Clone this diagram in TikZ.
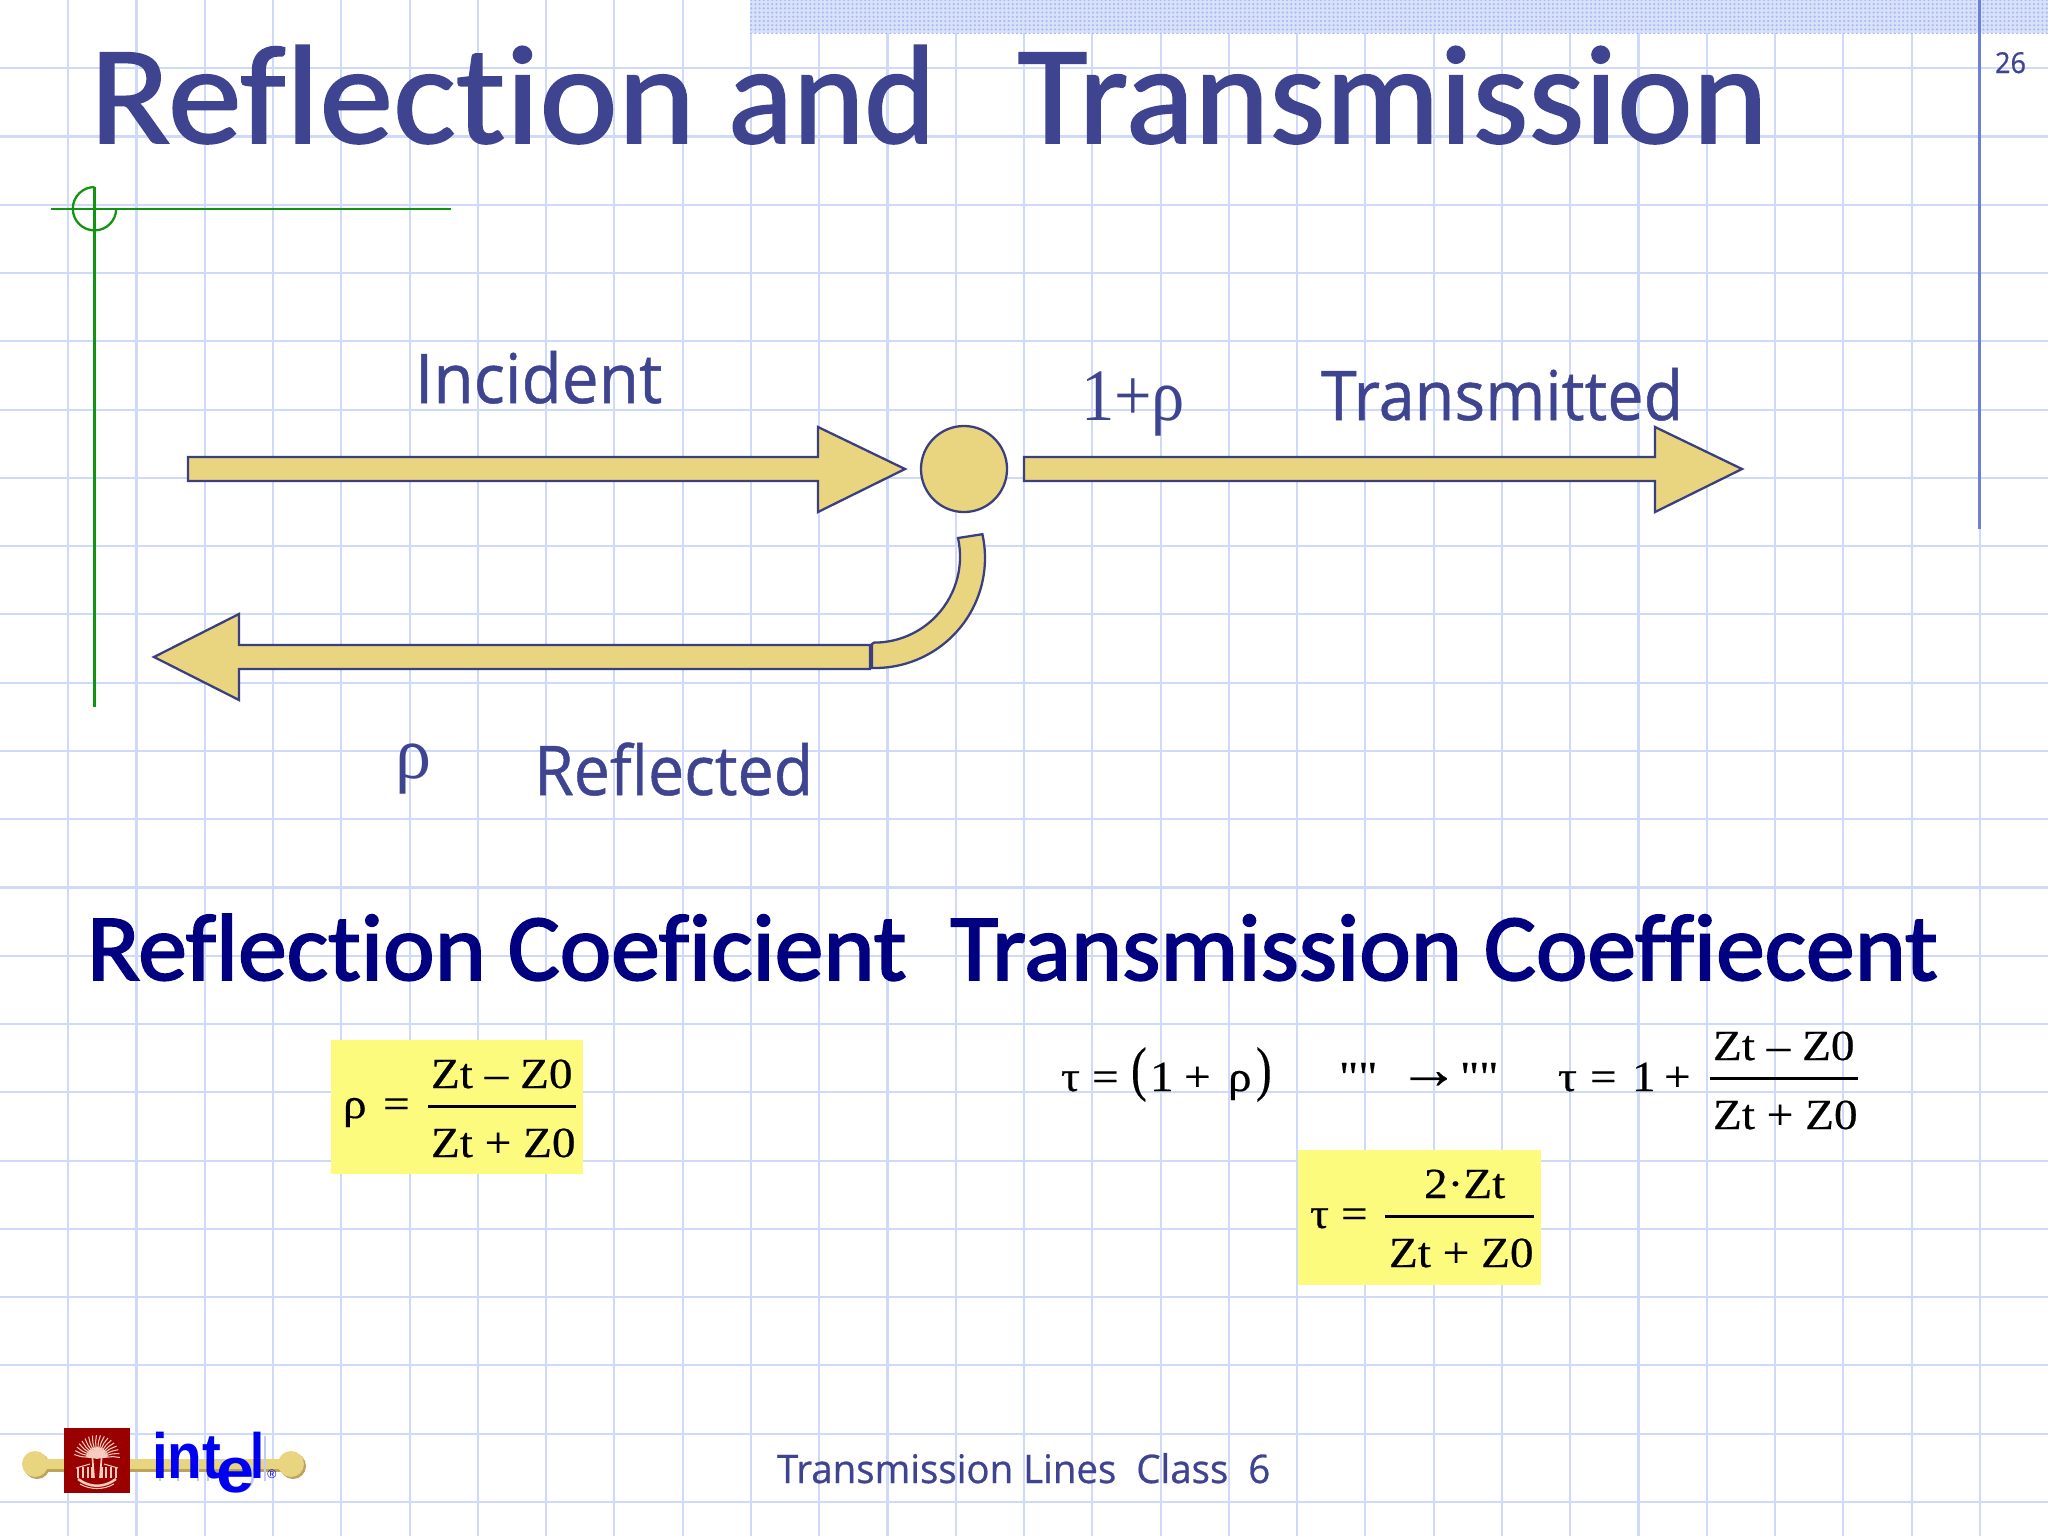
\documentclass[tikz,border=0pt]{standalone}
\usepackage{graphicx}
\usepackage{fontspec}
\usepackage{xcolor}
\usepackage{tikz}
\usetikzlibrary{patterns.meta}
\setmainfont{Liberation Serif}
\newfontfamily\titlefont[RawFeature=-liga,FakeBold=1.2]{Carlito}
\newfontfamily\headfont[RawFeature=-liga,FakeBold=2]{Carlito}
\newfontfamily\bodyfont[FakeBold=0.7]{Open Sans}
\newfontfamily\formulafont[FakeStretch=1.1,FakeBold=0.4]{Liberation Serif}
\newfontfamily\logofont{Liberation Sans}
\definecolor{gridcolor}{HTML}{CFD9F9}
\definecolor{barcolor}{HTML}{A9BCF0}
\definecolor{rulecolor}{HTML}{6C80DA}
\definecolor{slidecolor}{HTML}{3F4490}
\definecolor{headcolor}{HTML}{000080}
\definecolor{goldcolor}{HTML}{E9D57F}
\definecolor{goldshade}{HTML}{B9A45A}
\definecolor{edgecolor}{HTML}{3B3F80}
\definecolor{markcolor}{HTML}{129412}
\definecolor{boxcolor}{HTML}{FDFB7E}
\definecolor{logored}{HTML}{9B0000}
\definecolor{logopink}{HTML}{F6CDBE}
\definecolor{logoblue}{HTML}{0000F0}
\definecolor{logoshade}{HTML}{C3CBEA}
\tikzset{
  lbl/.style={anchor=base west,inner sep=0pt,outer sep=0pt,text=slidecolor},
  formula/.style={anchor=base west,inner sep=0pt,outer sep=0pt,text=black,font=\formulafont\fontsize{12.2}{14}\selectfont},
  fracbar/.style={black,line width=0.85pt},
  blockarrow/.style={fill=goldcolor,draw=edgecolor,line width=0.65pt,line join=miter},
  markline/.style={markcolor,line width=0.65pt},
  yellowbox/.style={fill=boxcolor,draw=none},
  logotext/.style={anchor=base west,inner sep=0pt,outer sep=0pt,text=logoblue,font=\logofont\bfseries\fontsize{18.2}{20}\selectfont},
  emblem/.style={logopink,line width=0.3pt}
}
\begin{document}
\begin{tikzpicture}[thick,x=0.01cm,y=-0.01cm]
\useasboundingbox (0,0) rectangle (2048,1536);
\fill[white] (0,0) rectangle (2048,1536);
\foreach \k in {1,...,29}
    \draw[gridcolor,line width=0.6pt] ({\k*68.27},0) -- ({\k*68.27},1536);
\foreach \k in {1,...,22}
    \draw[gridcolor,line width=0.6pt] (0,{\k*68.27}) -- (2048,{\k*68.27});
\fill[gridcolor!80] (750,0) rectangle (2048,33);
\fill[pattern={Dots[distance=1.2pt,radius=0.35pt]},pattern color=barcolor] (750,0) rectangle (2048,33);
\draw[rulecolor,line width=0.6pt] (1979.5,0) -- (1979.5,529);
\node[lbl,font=\bodyfont\fontsize{8.2}{10}\selectfont] (pagenum) at (1995,73) {\resizebox{0.31cm}{\height}{26}};

\node[lbl,font=\titlefont\fontsize{40}{44}\selectfont] (title) at (90,143) {\resizebox{16.77cm}{\height}{\scalebox{1.035}[1]{Reflection} \scalebox{0.95}[1]{and}\ \ \hspace{0.12em}Transmission}};

\draw[markline] (51,209) -- (451,209);
\draw[markline] (94.5,187) -- (94.5,707);
\draw[markline] (94.5,187) arc[start angle=-90,delta angle=-270,radius=21.7];

\draw[blockarrow] (188,457) -- (818,457) -- (818,427) -- (905,469) -- (818,512) -- (818,481) -- (188,481) -- cycle;
\node[circle,fill=goldcolor,draw=edgecolor,line width=0.65pt,minimum size=0.86cm,inner sep=0pt] (junction) at (964,469) {};
\draw[blockarrow] (1024,457) -- (1655,457) -- (1655,427) -- (1742,469) -- (1655,512) -- (1655,481) -- (1024,481) -- cycle;
\draw[blockarrow] (870,645) -- (239,645) -- (239,614) -- (154,657) -- (239,700) -- (239,669) -- (870,669) -- cycle;
\draw[blockarrow] (872,668) -- (875,668) arc[start angle=90,delta angle=-102.5,radius=110] -- (958,538) arc[start angle=-12.5,delta angle=102.5,radius=86] -- (872,644) -- cycle;

\node[lbl,font=\bodyfont\fontsize{19.5}{22}\selectfont] (incident) at (415,403) {\resizebox{2.47cm}{\height}{Incident}};
\node[lbl,font=\bodyfont\fontsize{19.5}{22}\selectfont] (transmitted) at (1321,420) {\resizebox{3.62cm}{\height}{Transmitted}};
\node[lbl,font=\bodyfont\fontsize{19.5}{22}\selectfont] (reflected) at (534,795) {\resizebox{2.79cm}{\height}{Reflected}};
\node[lbl,font=\fontsize{21}{23}\selectfont] (oneplus) at (1081,420) {\resizebox{1.04cm}{\height}{1+ρ}};
\node[lbl,font=\fontsize{21}{23}\selectfont] (rhoref) at (395,778) {\resizebox{0.36cm}{\height}{ρ}};

\node[lbl,text=headcolor,font=\headfont\fontsize{27}{30}\selectfont] (coeff) at (87,980) {\resizebox{18.5cm}{\height}{Reflection Coeficient\ \ Transmission Coeffiecent}};

\fill[yellowbox] (331,1040) rectangle (583,1174);
\fill[yellowbox] (1298,1150) rectangle (1541,1285);

\foreach \fname/\fx/\fy/\ftext in {rhoa/343/1118/ρ, eqa/383/1118/=, numa/431/1088/Zt – Z0, dena/431/1157/Zt + Z0,
    taub/1061/1091/τ, eqb/1092/1091/=, oneb/1150/1091/1, plusb/1184/1091/+, rhob/1228/1091/ρ,
    quotea/1339/1091/"", quoteb/1460/1091/"",
    tauc/1558/1091/τ, eqc/1590/1091/=, onec/1632/1091/1, plusc/1664/1091/+, numc/1713/1060/Zt – Z0, denc/1713/1129/Zt + Z0,
    taud/1310/1228/τ, eqd/1341/1228/=, numd/1424/1198/2·Zt, dend/1389/1267/Zt + Z0}
    \node[formula] (\fname) at (\fx,\fy) {\ftext};
\node[formula] (arrowb) at (1398,1088) {\scalebox{1.3}{→}};
\node[formula] (lparen) at (1131,1089) {\scalebox{1}[1.4]{(}};
\node[formula] (rparen) at (1256,1089) {\scalebox{1}[1.4]{)}};
\draw[fracbar] (428,1106) -- (576,1106);
\draw[fracbar] (1710,1078) -- (1858,1078);
\draw[fracbar] (1385,1216) -- (1534,1216);

\node[lbl,font=\bodyfont\fontsize{11.2}{13}\selectfont] (footer) at (777,1483) {\resizebox{4.93cm}{\height}{Transmission Lines\ \ Class\ \ 6}};

\fill[goldshade] (37,1466) circle (13);
\fill[goldshade] (293,1466) circle (13);
\fill[goldshade] (30,1461) rectangle (292,1472);
\fill[goldcolor] (30,1459) rectangle (290,1469);
\fill[goldcolor] (35,1464) circle (13);
\fill[goldcolor] (291,1464) circle (13);
\fill[logored] (64,1428) rectangle (130,1493);
\foreach \a in {-175,-165,...,-5}
    \draw[emblem] (97,1458) -- ++(\a:16) -- ++({\a+12}:7);
\foreach \a in {-170,-160,...,-10}
    \draw[emblem] (97,1458) -- ++(\a:11);
\foreach \cx in {78,83,88,92,102,106,111,116}
    \draw[emblem] (\cx,1467) -- (\cx,1478);
\draw[emblem] (76,1468) -- (90,1464) (104,1464) -- (118,1468);
\draw[emblem,line width=0.5pt] (92,1452) -- (94,1478) (102,1452) -- (100,1478);
\draw[emblem,line width=0.7pt] (78,1479) .. controls (90,1488) and (104,1488) .. (116,1479);
\draw[emblem] (80,1484) .. controls (90,1490) and (104,1490) .. (114,1484);

\draw[logoshade,line width=0.8pt] (160,1446) -- (160,1481) (178,1481) -- (178,1455) (198,1481) -- (198,1456) (208,1481) -- (208,1456);
\draw[logoshade,line width=0.8pt] (217,1460) -- (223,1460) (265,1436) -- (265,1481);
\draw[logoshade,line width=0.8pt] (238,1476) circle (15);
\node[logotext] (logoint) at (152,1478) {\resizebox{0.69cm}{\height}{int}};
\node[logotext] (logoe) at (216,1492) {\resizebox{0.38cm}{\height}{e}};
\node[logotext] (logol) at (250,1478) {\resizebox{0.14cm}{\height}{l}};
\node[anchor=center,inner sep=0pt,text=logoblue,font=\logofont\fontsize{3.5}{4}\selectfont] (logoreg) at (272,1474) {®};
\end{tikzpicture}
\end{document}
